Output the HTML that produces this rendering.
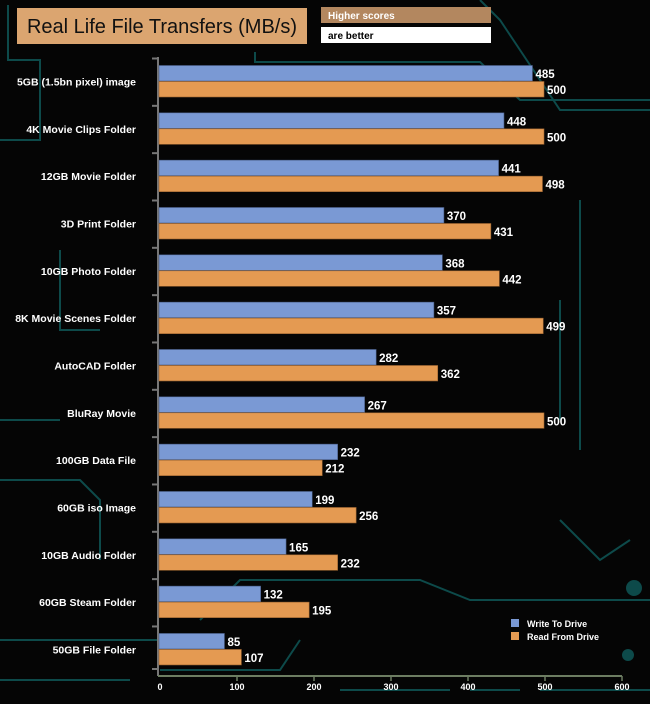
<!DOCTYPE html>
<html><head><style>
body{margin:0;background:#000;}
svg{display:block}
text{font-family:"Liberation Sans",Arial,sans-serif}
</style></head><body>
<svg width="650" height="704" viewBox="0 0 650 704" xmlns="http://www.w3.org/2000/svg">
<rect width="650" height="704" fill="#050505"/>
<g stroke="#0d4a4a" stroke-width="2" fill="none">
<path d="M0 140 H40 V60 H8 V5"/>
<path d="M255 52 V62 H480 L520 100 H650"/>
<path d="M480 0 L500 20 L540 80 L560 110 H650"/>
<path d="M160 640 L0 640"/>
<path d="M0 680 H130"/>
<path d="M200 620 L240 580 H420 L470 600 H650"/>
<path d="M300 640 L280 670 H160"/>
<path d="M560 300 L560 420"/>
<path d="M580 200 V450"/>
<path d="M0 480 H80 L100 500 V560"/>
<path d="M560 520 L600 560 L630 540"/>
<path d="M60 250 V330 H100"/>
<path d="M0 420 H60"/>
<path d="M340 690 H450 M470 690 H520 M540 690 H650"/>
</g>
<circle cx="634" cy="588" r="8" fill="#0d4a4a"/>
<circle cx="628" cy="655" r="6" fill="#0d4a4a"/>
<rect x="17" y="8" width="290" height="36" fill="#dba570"/>
<text x="162" y="33" font-size="20" text-anchor="middle" fill="#111">Real Life File Transfers (MB/s)</text>
<rect x="321" y="7" width="170" height="16" fill="#b3875f"/>
<text x="328" y="19" font-size="10" font-weight="bold" fill="#fff">Higher scores</text>
<rect x="321" y="27" width="170" height="16" fill="#fff"/>
<text x="328" y="39" font-size="10" font-weight="bold" fill="#000">are better</text>
<line x1="158" y1="57" x2="158" y2="676" stroke="#777" stroke-width="2"/>
<line x1="158" y1="676" x2="622" y2="676" stroke="#6d7d62" stroke-width="2"/>
<g stroke="#777" stroke-width="2" id="ticks"></g>
<g id="bars"></g>
<g font-size="9" font-weight="bold" fill="#fff" text-anchor="middle">
<text x="160" y="690">0</text><text x="237" y="690">100</text><text x="314" y="690">200</text><text x="391" y="690">300</text><text x="468" y="690">400</text><text x="545" y="690">500</text><text x="622" y="690">600</text>
</g>
<g stroke="#6d7d62" stroke-width="1.5">
<line x1="237" y1="676" x2="237" y2="681"/><line x1="314" y1="676" x2="314" y2="681"/><line x1="391" y1="676" x2="391" y2="681"/><line x1="468" y1="676" x2="468" y2="681"/><line x1="545" y1="676" x2="545" y2="681"/><line x1="622" y1="676" x2="622" y2="681"/>
</g>
<rect x="511" y="619" width="8" height="8" fill="#7a99d4"/>
<rect x="511" y="632" width="8" height="8" fill="#e49a52"/>
<text x="527" y="627" font-size="9" font-weight="bold" fill="#fff">Write To  Drive</text>
<text x="527" y="640" font-size="9" font-weight="bold" fill="#fff">Read From  Drive</text>
</svg>
<script>
var d=[["5GB (1.5bn pixel) image",485,500],["4K Movie Clips Folder",448,500],["12GB Movie Folder",441,498],["3D Print Folder",370,431],["10GB Photo Folder",368,442],["8K Movie Scenes Folder",357,499],["AutoCAD Folder",282,362],["BluRay Movie",267,500],["100GB Data File",232,212],["60GB iso Image",199,256],["10GB Audio Folder",165,232],["60GB Steam Folder",132,195],["50GB File Folder",85,107]];
var ns="http://www.w3.org/2000/svg",g=document.getElementById("bars"),tk=document.getElementById("ticks");
function el(t,a,p,txt){var e=document.createElementNS(ns,t);for(var k in a)e.setAttribute(k,a[k]);if(txt!=null)e.textContent=txt;p.appendChild(e);return e;}
var sc=0.77;
for(var i=0;i<13;i++){var y=65.5+i*47.33;
el("line",{x1:152,y1:y-7,x2:158,y2:y-7},tk);
el("rect",{x:159,y:y,width:d[i][1]*sc,height:15.5,fill:"#7a99d4",stroke:"#4a5e88","stroke-width":0.6},g);
el("rect",{x:159,y:y+16,width:d[i][2]*sc,height:15.5,fill:"#e49a52",stroke:"#9a6330","stroke-width":0.6},g);
el("text",{x:162+d[i][1]*sc,y:y+12.5,"font-size":11.5,"font-weight":"bold",fill:"#fff"},g,d[i][1]);
el("text",{x:162+d[i][2]*sc,y:y+28.5,"font-size":11.5,"font-weight":"bold",fill:"#fff"},g,d[i][2]);
el("text",{x:136,y:y+20,"font-size":10.5,"font-weight":"bold",fill:"#fff","text-anchor":"end"},g,d[i][0]);
}
el("line",{x1:152,y1:669,x2:158,y2:669},tk);
</script>
</body></html>
